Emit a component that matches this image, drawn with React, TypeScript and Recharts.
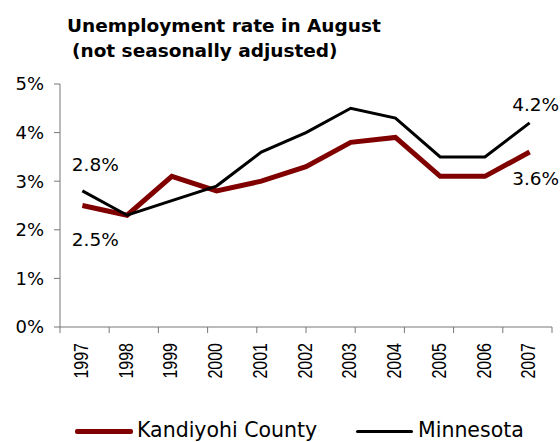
import { LabelList, Legend, Line, LineChart, XAxis, YAxis } from "recharts";

const years = ["1997", "1998", "1999", "2000", "2001", "2002", "2003", "2004", "2005", "2006", "2007"];
const kandiyohi = [2.5, 2.3, 3.1, 2.8, 3.0, 3.3, 3.8, 3.9, 3.1, 3.1, 3.6];
const minnesota = [2.8, 2.3, 2.6, 2.9, 3.6, 4.0, 4.5, 4.3, 3.5, 3.5, 4.2];
const yTicks = [0, 1, 2, 3, 4, 5];
const boundaryTicks = [0, 1, 2, 3, 4, 5, 6, 7, 8, 9, 10, 11];

const data = years.map((year, i) => ({
  year,
  kandiyohi: kandiyohi[i],
  minnesota: minnesota[i],
}));

const FONT = "'DejaVu Sans', sans-serif";
const AXIS = "#777";
const RED = "#800000";

const YearTick = ({ x, y, payload }: any) => (
  <text
    transform={`translate(${x},${y}) rotate(-90) scale(1,1.25)`}
    textAnchor="end"
    dy="0.28em"
    fontFamily="'Liberation Sans', Arial, sans-serif"
    fontSize={16}
    fill="#000"
  >
    {payload.value}
  </text>
);

const NoTick = () => <g />;

// only first and last points are labelled
const endLabel = (below: boolean) => (props: any) => {
  const { x, y, index, value } = props;
  if (index !== 0 && index !== years.length - 1) return null;
  const first = index === 0;
  const dx = first ? 13 : 6;
  const dy = below ? (first ? 40 : 33) : first ? -20 : -12;
  return (
    <text x={x + dx} y={y + dy} textAnchor="middle" fontFamily={FONT} fontSize={18.5} fill="#000">
      {value.toFixed(1)}%
    </text>
  );
};

const LegendBox = () => (
  <div
    style={{
      height: 30,
      paddingTop: 6,
      paddingLeft: 75,
      boxSizing: "border-box",
      display: "flex",
      alignItems: "center",
      fontFamily: FONT,
      fontSize: 20.5,
      lineHeight: "22px",
      color: "#000",
    }}
  >
    <div style={{ width: 281, display: "flex", alignItems: "center" }}>
      <span style={{ width: 58, height: 5, background: RED, borderRadius: 2, marginRight: 4, marginTop: 3 }} />
      <span>Kandiyohi County</span>
    </div>
    <div style={{ display: "flex", alignItems: "center" }}>
      <span style={{ width: 57, height: 3.5, background: "#000", borderRadius: 2, marginRight: 5, marginTop: 3 }} />
      <span>Minnesota</span>
    </div>
  </div>
);

export default function App() {
  return (
    <div style={{ position: "absolute", left: 0, top: 0, width: 560, height: 442, background: "#fff" }}>
      <div
        style={{
          position: "absolute",
          left: 67,
          top: 13,
          fontFamily: FONT,
          fontWeight: "bold",
          fontSize: 18.5,
          lineHeight: "25px",
          color: "#000",
          zIndex: 1,
        }}
      >
        <div>Unemployment rate in August</div>
        <div style={{ paddingLeft: 5 }}>(not seasonally adjusted)</div>
      </div>
      <LineChart width={560} height={442} data={data} margin={{ top: 84, right: 8, left: 0, bottom: 0 }}>
        <XAxis
          xAxisId="years"
          dataKey="year"
          scale="band"
          axisLine={false}
          tickLine={false}
          tickSize={6}
          tickMargin={9}
          height={84}
          interval={0}
          tick={<YearTick />}
        />
        <XAxis
          type="number"
          domain={[0, 11]}
          ticks={boundaryTicks}
          interval={0}
          tick={<NoTick />}
          tickSize={6}
          height={1}
          stroke={AXIS}
        />
        <YAxis
          domain={[0, 5]}
          ticks={yTicks}
          width={60}
          tickSize={6}
          tickMargin={10}
          stroke={AXIS}
          tickFormatter={(v) => `${v}%`}
          tick={{ fontFamily: FONT, fontSize: 18, fill: "#000" }}
        />
        <Legend verticalAlign="bottom" height={30} content={<LegendBox />} />
        <Line
          xAxisId="years"
          dataKey="kandiyohi"
          name="Kandiyohi County"
          stroke={RED}
          strokeWidth={5}
          dot={false}
          isAnimationActive={false}
        >
          <LabelList dataKey="kandiyohi" content={endLabel(true)} />
        </Line>
        <Line
          xAxisId="years"
          dataKey="minnesota"
          name="Minnesota"
          stroke="#000"
          strokeWidth={3}
          dot={false}
          isAnimationActive={false}
        >
          <LabelList dataKey="minnesota" content={endLabel(false)} />
        </Line>
      </LineChart>
    </div>
  );
}
